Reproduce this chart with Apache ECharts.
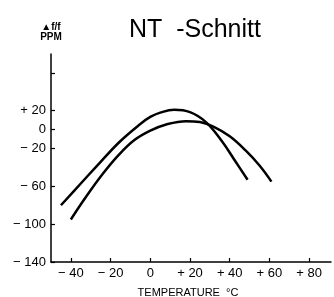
<!DOCTYPE html>
<html>
<head>
<meta charset="utf-8">
<script src="https://cdn.jsdelivr.net/npm/echarts@6/dist/echarts.min.js"></script>
<style>
html,body{margin:0;padding:0;background:#fff;}
#c{width:334px;height:297px;}
</style>
</head>
<body>
<div id="c"></div>
<script>
var titleText = 'NT  -Schnitt';
var yAxisName = '▲f/f\nPPM';
var xAxisName = 'TEMPERATURE  °C';

var xTickValues = [-40, -20, 0, 20, 40, 60, 80];
var yLabelValues = [-140, -100, -60, -20, 0, 20];
var yTickValues = [-140, -100, -60, -20, 0, 20, 60];

var curve1Temp = [-45, -35, -25, -15, -5, 0, 5, 12, 20, 28, 36, 43, 49];
var curve1Ppm  = [-80, -57, -34, -12, 6, 13.5, 18, 21, 18.5, 8, -12, -34, -53];

var curve2Temp = [-40, -32, -24, -16, -8, 0, 8, 18, 25, 32, 40, 48, 55, 61];
var curve2Ppm  = [-95, -70, -47, -27, -11, -1, 5.5, 9, 8, 3, -7, -22, -38, -55];

function pairs(xs, ys){ return xs.map(function(x,i){ return [x, ys[i]]; }); }
function fmt(v){
  if (v === 0) return '0';
  return (v > 0 ? '+ ' : '\u2212 ') + Math.abs(v);
}

var font = 'Liberation Sans, Arial, sans-serif';
var chart = echarts.init(document.getElementById('c'), null, {renderer:'canvas'});
chart.setOption({
  animation: false,
  backgroundColor: '#fff',
  title: {
    text: titleText,
    left: 124, top: 13,
    textStyle: {fontFamily: font, fontSize: 25, fontWeight: 'normal', color: '#000'}
  },
  grid: {left: 51, right: 3, top: 54, bottom: 35, containLabel: false, outerBoundsMode: 'none'},
  xAxis: {
    type: 'value', min: -50, max: 91,
    name: xAxisName, nameLocation: 'middle', nameGap: 25,
    nameTextStyle: {fontFamily: font, fontSize: 11, color: '#000', padding: [0,6,0,0]},
    axisLine: {onZero: false, lineStyle: {color: '#000', width: 1.5}},
    axisTick: {inside: true, length: 4, customValues: xTickValues, lineStyle: {color: '#000', width: 1.2}},
    axisLabel: {customValues: xTickValues, formatter: fmt, margin: 5,
      fontFamily: font, fontSize: 13, color: '#000'},
    splitLine: {show: false}
  },
  yAxis: {
    type: 'value', min: -140, max: 80,
    name: yAxisName, nameLocation: 'end', nameGap: 12,
    nameTextStyle: {fontFamily: font, fontSize: 10, fontWeight: 'bold', color: '#000', lineHeight: 10, align: 'center'},
    axisLine: {onZero: false, lineStyle: {color: '#000', width: 1.5}},
    axisTick: {inside: true, length: 4, customValues: yTickValues, lineStyle: {color: '#000', width: 1.2}},
    axisLabel: {customValues: yLabelValues, formatter: fmt, margin: 5,
      fontFamily: font, fontSize: 13, color: '#000'},
    splitLine: {show: false}
  },
  series: [
    {type: 'line', data: pairs(curve1Temp, curve1Ppm), smooth: 0.4, showSymbol: false,
     lineStyle: {color: '#000', width: 2.5}},
    {type: 'line', data: pairs(curve2Temp, curve2Ppm), smooth: 0.4, showSymbol: false,
     lineStyle: {color: '#000', width: 2.5}}
  ]
});
</script>
</body>
</html>
